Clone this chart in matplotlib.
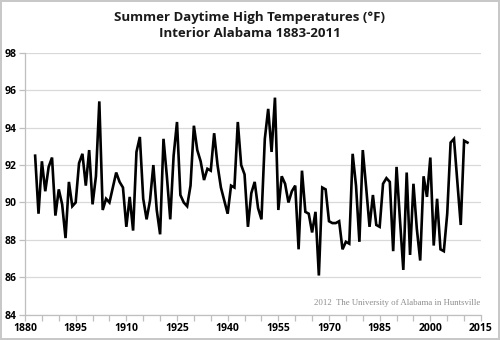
import matplotlib
matplotlib.use("Agg")
import matplotlib.pyplot as plt
from matplotlib.ticker import MultipleLocator, FixedLocator
import numpy as np

# summer daytime high temps, interior Alabama
years = np.arange(1883, 2012)
temps = [
    92.5, 89.4, 92.2, 90.6, 91.9, 92.4, 89.3, 90.7, 89.9, 88.1,   # 1883-1892
    91.1, 89.8, 90.0, 92.1, 92.6, 90.9, 92.8, 89.9, 91.4, 95.4,   # 1893-1902
    89.6, 90.2, 90.0, 90.8, 91.6, 91.1, 90.8, 88.7, 90.3, 88.5,   # 1903-1912
    92.7, 93.5, 90.2, 89.1, 90.1, 92.0, 89.6, 88.3, 93.4, 91.4,   # 1913-1922
    89.1, 92.5, 94.3, 90.4, 90.0, 89.8, 90.9, 94.1, 92.8, 92.2,   # 1923-1932
    91.2, 91.8, 91.7, 93.7, 92.0, 90.8, 90.1, 89.4, 90.9, 90.8,   # 1933-1942
    94.3, 92.0, 91.5, 88.7, 90.5, 91.1, 89.7, 89.1, 93.4, 95.0,   # 1943-1952
    92.7, 95.6, 89.6, 91.4, 91.0, 90.0, 90.6, 90.9, 87.5, 91.7,   # 1953-1962
    89.5, 89.4, 88.4, 89.5, 86.1, 90.8, 90.7, 89.0, 88.9, 88.9,   # 1963-1972
    89.0, 87.5, 87.9, 87.8, 92.6, 90.9, 87.9, 92.8, 90.8, 88.7,   # 1973-1982
    90.4, 88.8, 88.7, 91.0, 91.3, 91.1, 87.4, 91.9, 89.1, 86.4,   # 1983-1992
    91.6, 87.2, 91.0, 88.6, 86.9, 91.4, 90.3, 92.4, 87.7, 90.2,   # 1993-2002
    87.5, 87.4, 89.4, 93.2, 93.4, 91.1, 88.8, 93.3, 93.2,         # 2003-2011
]
assert len(temps) == len(years)

xticks = list(range(1880, 2016, 15))
title = "Summer Daytime High Temperatures (\u00b0F)\nInterior Alabama 1883-2011"
credit = "2012  The University of Alabama in Huntsville"

fig = plt.figure(figsize=(5, 3.4), dpi=100)
fig.patch.set_edgecolor("#c8c8c8")
fig.patch.set_linewidth(1.5)
ax = fig.add_axes([0.05, 0.074, 0.912, 0.771])

ax.plot(years, temps, color="black", lw=1.9, solid_joinstyle="miter")

ax.set_xlim(1880, 2015)
ax.set_ylim(84, 98)
ax.xaxis.set_major_locator(FixedLocator(xticks))
ax.xaxis.set_minor_locator(MultipleLocator(5))
ax.yaxis.set_major_locator(MultipleLocator(2))
ax.grid(axis="y", color="#d9d9d9", lw=0.9)
ax.set_axisbelow(True)

for s in ["top", "right"]:
    ax.spines[s].set_visible(False)
for s in ["left", "bottom"]:
    ax.spines[s].set_color("#bfbfbf")
    ax.spines[s].set_linewidth(0.9)

ax.tick_params(axis="both", which="both", color="#bfbfbf", width=0.9, length=4,
               labelsize=7.5, pad=2)
for lab in ax.get_xticklabels() + ax.get_yticklabels():
    lab.set_fontweight("bold")
    lab.set_family("Open Sans")

fig.text(0.5, 0.925, title, ha="center", va="center", fontsize=9.5,
         fontweight="bold", family="Open Sans", linespacing=1.35, color="#1a1a1a")
ax.text(0.998, 0.03, credit, transform=ax.transAxes, ha="right", va="bottom",
        fontsize=6.3, family="Liberation Serif", color="#8c8c8c")

fig.savefig("out.png", dpi=100)
